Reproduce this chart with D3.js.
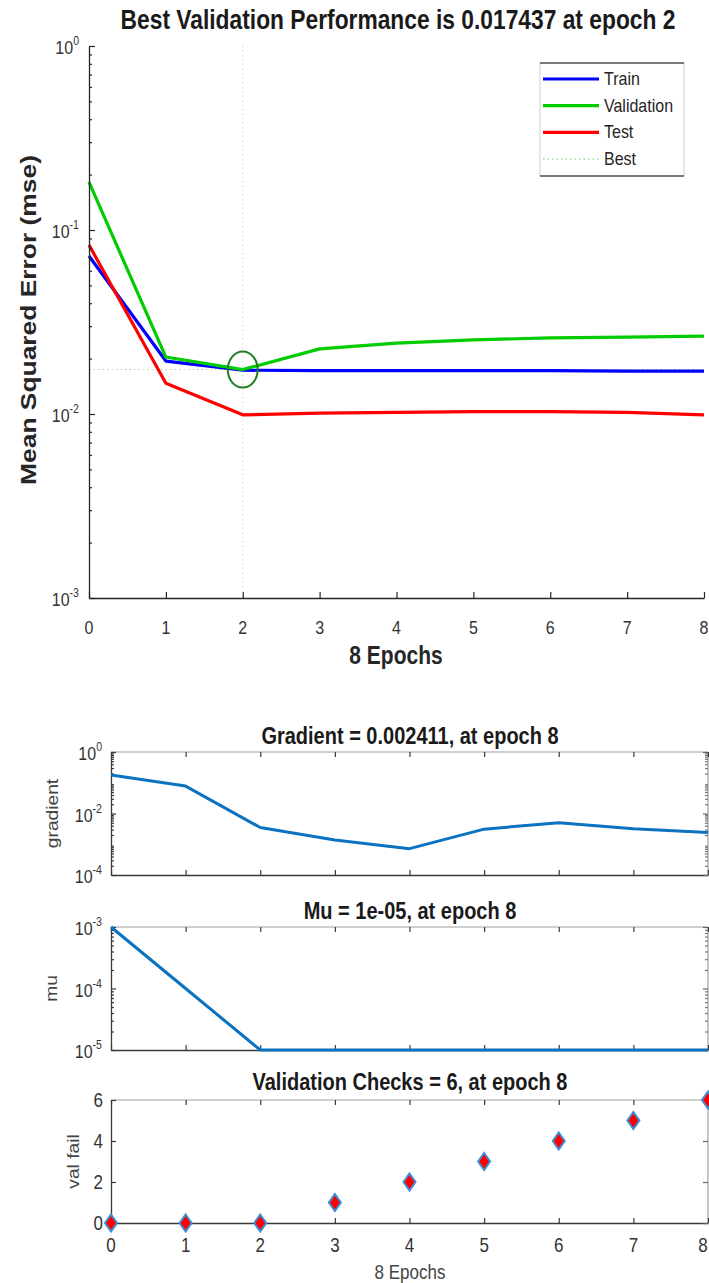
<!DOCTYPE html>
<html>
<head>
<meta charset="utf-8">
<script src="https://cdn.jsdelivr.net/npm/d3@7"></script>
<style>
  body { margin: 0; background: #fff; }
  svg { display: block; }
  text { font-family: "Liberation Sans", Arial, Helvetica, sans-serif; }
</style>
</head>
<body>
<svg id="chart" width="709" height="1283"></svg>
<script>
// ---- training record ----
const epochs = [0, 1, 2, 3, 4, 5, 6, 7, 8];
const trainPerf = [0.0722, 0.0194, 0.0173, 0.0172, 0.0172, 0.0172, 0.0172, 0.0171, 0.0171];
const valPerf   = [0.182, 0.0204, 0.017437, 0.0226, 0.0243, 0.0253, 0.0259, 0.0262, 0.0265];
const testPerf  = [0.0829, 0.0147, 0.0099, 0.0101, 0.0102, 0.0103, 0.0103, 0.0102, 0.0099];
const bestEpoch = 2;
const bestPerf = 0.017437;

const gradientVals = [0.18, 0.078, 0.0035, 0.00137, 0.00072, 0.0031, 0.0050, 0.0032, 0.002411];
const muVals = [1e-3, 1e-4, 1e-5, 1e-5, 1e-5, 1e-5, 1e-5, 1e-5, 1e-5];
const valFailVals = [0, 0, 0, 1, 2, 3, 4, 5, 6];

// tick labels
const perfExponents = [-3, -2, -1, 0];
const gradExponents = [-4, -2, 0];
const muExponents = [-5, -4, -3];
const valFailTicks = [0, 2, 4, 6];

const legendItems = [
  { name: "Train", color: "#0000ff", dash: null },
  { name: "Validation", color: "#00cc00", dash: null },
  { name: "Test", color: "#ff0000", dash: null },
  { name: "Best", color: "#8fd48f", dash: "1.5,3" }
];

const SY = 1.2;               // vertical stretch applied to text
const AX = "#262626";
const LABEL = "#333";
const svg = d3.select("#chart");

function txt(parent, x, y, str, o = {}) {
  const tr = `translate(${x},${y})` + (o.rotate ? ` rotate(-90) scale(${SY},1)` : ` scale(1,${SY})`);
  return parent.append("text")
    .attr("transform", tr)
    .attr("text-anchor", o.anchor || "middle")
    .attr("font-size", o.size || 16)
    .attr("font-weight", o.bold ? "bold" : "normal")
    .attr("fill", o.color || LABEL)
    .text(str);
}
function powTxt(parent, x, y, exp, size) {
  const t = parent.append("text")
    .attr("transform", `translate(${x},${y}) scale(1,${SY})`)
    .attr("text-anchor", "end")
    .attr("font-size", size)
    .attr("fill", LABEL);
  t.append("tspan").text("10");
  t.append("tspan").attr("dy", -size * 0.45).attr("font-size", size * 0.66).text(exp);
}
function minorLogTicks(domain) {
  const out = [];
  const lo = Math.floor(Math.log10(domain[0])), hi = Math.ceil(Math.log10(domain[1]));
  for (let e = lo; e < hi; e++) for (let k = 2; k <= 9; k++) {
    const v = k * Math.pow(10, e);
    if (v > domain[0] && v < domain[1]) out.push(v);
  }
  return out;
}
function styleAxis(g, color) {
  g.selectAll("path.domain").attr("stroke", color || AX).attr("stroke-width", 1.3);
  g.selectAll(".tick line").attr("stroke", color || AX).attr("stroke-width", 1.2);
  g.selectAll(".tick text").remove();
}

// ================= Performance plot =================
const xTop = d3.scaleLinear().domain([0, 8]).range([89, 704]);
const yTop = d3.scaleLog().domain([1e-3, 1]).range([598, 46]);
const perfG = svg.append("g");

// best markers (dotted)
perfG.append("line")
  .attr("x1", xTop(bestEpoch)).attr("x2", xTop(bestEpoch))
  .attr("y1", yTop(1)).attr("y2", yTop(1e-3))
  .attr("stroke", "#c2e6c2").attr("stroke-width", 1).attr("stroke-dasharray", "1.5,3");
perfG.append("line")
  .attr("x1", xTop(0)).attr("x2", xTop(8))
  .attr("y1", yTop(bestPerf)).attr("y2", yTop(bestPerf))
  .attr("stroke", "#a8dca8").attr("stroke-width", 1.1).attr("stroke-dasharray", "1.5,3");

const lineTop = d3.line().x((d, i) => xTop(epochs[i])).y(d => yTop(d));
[[trainPerf, "#0000ff"], [valPerf, "#00cc00"], [testPerf, "#ff0000"]].forEach(([vals, c]) => {
  perfG.append("path").attr("d", lineTop(vals)).attr("fill", "none")
    .attr("stroke", c).attr("stroke-width", 3.2).attr("stroke-linejoin", "round");
});
perfG.append("ellipse")
  .attr("cx", xTop(bestEpoch)).attr("cy", yTop(bestPerf))
  .attr("rx", 15).attr("ry", 18)
  .attr("fill", "none").attr("stroke", "#1f7f1f").attr("stroke-width", 2);

// axes
perfG.append("g").attr("transform", `translate(${xTop(0)},0)`)
  .call(d3.axisLeft(yTop).tickValues(perfExponents.map(e => Math.pow(10, e))).tickSizeInner(-6).tickSizeOuter(0))
  .call(g => styleAxis(g));
perfG.append("g").attr("transform", `translate(${xTop(0)},0)`)
  .call(d3.axisLeft(yTop).tickValues(minorLogTicks([1e-3, 1])).tickSizeInner(-3).tickSizeOuter(0))
  .call(g => { styleAxis(g); g.select("path.domain").remove(); });
perfG.append("g").attr("transform", `translate(0,${yTop(1e-3)})`)
  .call(d3.axisBottom(xTop).tickValues(epochs).tickSizeInner(-6).tickSizeOuter(0))
  .call(g => styleAxis(g));

perfExponents.forEach(e => powTxt(perfG, 79, yTop(Math.pow(10, e)) + 8, String(e), 16));
epochs.forEach(e => txt(perfG, xTop(e), 634, String(e), { size: 16 }));
txt(perfG, 396, 664, "8 Epochs", { size: 21, bold: true, color: "#262626" });
txt(perfG, 36, 320, "Mean Squared Error  (mse)", { size: 22, bold: true, rotate: true, color: "#262626" });
txt(perfG, 398, 29, "Best Validation Performance is 0.017437 at epoch 2", { size: 22.8, bold: true, color: "#1a1a1a" });

// legend
const lg = perfG.append("g");
lg.append("rect").attr("x", 540).attr("y", 63).attr("width", 144).attr("height", 113)
  .attr("fill", "#fff").attr("stroke", "#cfcfcf").attr("stroke-width", 1);
lg.append("line").attr("x1", 540).attr("x2", 684).attr("y1", 63).attr("y2", 63).attr("stroke", "#555").attr("stroke-width", 1.6);
lg.append("line").attr("x1", 540).attr("x2", 684).attr("y1", 176).attr("y2", 176).attr("stroke", "#555").attr("stroke-width", 1.6);
legendItems.forEach((d, i) => {
  const y = 79 + i * 26.7;
  lg.append("line").attr("x1", 543).attr("x2", 599).attr("y1", y).attr("y2", y)
    .attr("stroke", d.color).attr("stroke-width", d.dash ? 1.2 : 3.2)
    .attr("stroke-dasharray", d.dash);
  txt(lg, 604, y + 6, d.name, { size: 16, anchor: "start", color: "#262626" });
});

// ================= Training state panels =================
const xB = d3.scaleLinear().domain([0, 8]).range([111, 708]);

function panel(cfg) {
  const g = svg.append("g");
  const [yb, yt] = cfg.y.range();
  // frame
  g.append("line").attr("x1", xB(0)).attr("x2", xB(8)).attr("y1", yt).attr("y2", yt).attr("stroke", "#a0a0a0").attr("stroke-width", 1.2);
  g.append("line").attr("x1", xB(8)).attr("x2", xB(8)).attr("y1", yt).attr("y2", yb).attr("stroke", "#a0a0a0").attr("stroke-width", 1.2);
  g.append("g").attr("transform", `translate(0,${yb})`)
    .call(d3.axisBottom(xB).tickValues(epochs).tickSizeInner(-5).tickSizeOuter(0)).call(s => styleAxis(s, "#3a3a3a"));
  g.append("g").attr("transform", `translate(0,${yt})`)
    .call(d3.axisTop(xB).tickValues(epochs).tickSizeInner(-5).tickSizeOuter(0))
    .call(s => { styleAxis(s, "#3a3a3a"); s.select("path.domain").remove(); });
  g.append("g").attr("transform", `translate(${xB(0)},0)`)
    .call(d3.axisLeft(cfg.y).tickValues(cfg.ticks).tickSizeInner(-5).tickSizeOuter(0)).call(s => styleAxis(s, "#3a3a3a"));
  g.append("g").attr("transform", `translate(${xB(8)},0)`)
    .call(d3.axisRight(cfg.y).tickValues(cfg.ticks).tickSizeInner(-5).tickSizeOuter(0))
    .call(s => { styleAxis(s, "#666"); s.select("path.domain").remove(); });
  if (cfg.log) {
    const minors = minorLogTicks(cfg.y.domain());
    g.append("g").attr("transform", `translate(${xB(0)},0)`)
      .call(d3.axisLeft(cfg.y).tickValues(minors).tickSizeInner(-3).tickSizeOuter(0))
      .call(s => { styleAxis(s, "#3a3a3a"); s.select("path.domain").remove(); });
    g.append("g").attr("transform", `translate(${xB(8)},0)`)
      .call(d3.axisRight(cfg.y).tickValues(minors).tickSizeInner(-3).tickSizeOuter(0))
      .call(s => { styleAxis(s, "#777"); s.select("path.domain").remove(); });
  }
  // tick labels
  cfg.ticks.forEach((v, i) => {
    if (cfg.log) powTxt(g, 102, cfg.y(v) + 8, String(cfg.exps[i]), 16);
    else txt(g, 103, cfg.y(v) + 7, String(v), { size: 17, anchor: "end" });
  });
  txt(g, 410, cfg.titleY, cfg.title, { size: 20, bold: true, color: "#1a1a1a" });
  txt(g, cfg.labelX, (yt + yb) / 2, cfg.label, { size: 16, rotate: true, color: "#444" });
  return g;
}

const yGrad = d3.scaleLog().domain([1e-4, 1]).range([875, 752]);
const gGrad = panel({ y: yGrad, log: true, ticks: gradExponents.map(e => Math.pow(10, e)), exps: gradExponents,
  title: "Gradient = 0.002411, at epoch 8", titleY: 744, label: "gradient", labelX: 58 });
gGrad.append("path")
  .attr("d", d3.line().x((d, i) => xB(epochs[i])).y(d => yGrad(d))(gradientVals))
  .attr("fill", "none").attr("stroke", "#0a72c0").attr("stroke-width", 3).attr("stroke-linejoin", "round");

const yMu = d3.scaleLog().domain([1e-5, 1e-3]).range([1050, 927]);
const gMu = panel({ y: yMu, log: true, ticks: muExponents.map(e => Math.pow(10, e)), exps: muExponents,
  title: "Mu = 1e-05, at epoch 8", titleY: 919, label: "mu", labelX: 57 });
gMu.append("path")
  .attr("d", d3.line().x((d, i) => xB(epochs[i])).y(d => yMu(d))(muVals))
  .attr("fill", "none").attr("stroke", "#0a72c0").attr("stroke-width", 3).attr("stroke-linejoin", "round");

const yVal = d3.scaleLinear().domain([0, 6]).range([1223, 1100]);
const gVal = panel({ y: yVal, log: false, ticks: valFailTicks,
  title: "Validation Checks = 6, at epoch 8", titleY: 1090, label: "val fail", labelX: 79 });
gVal.selectAll("path.diamond").data(valFailVals).enter().append("path")
  .attr("class", "diamond")
  .attr("d", (d, i) => {
    const cx = xB(epochs[i]), cy = yVal(d);
    return `M${cx},${cy - 8.5}L${cx + 6},${cy}L${cx},${cy + 8.5}L${cx - 6},${cy}Z`;
  })
  .attr("fill", "#ff0000").attr("stroke", "#3a8fd6").attr("stroke-width", 2);
// last epoch label kept inside the page edge
epochs.forEach(e => txt(gVal, Math.min(xB(e), 703), 1252, String(e), { size: 17 }));
txt(gVal, 410, 1279, "8 Epochs", { size: 17, color: "#444" });
</script>
</body>
</html>
